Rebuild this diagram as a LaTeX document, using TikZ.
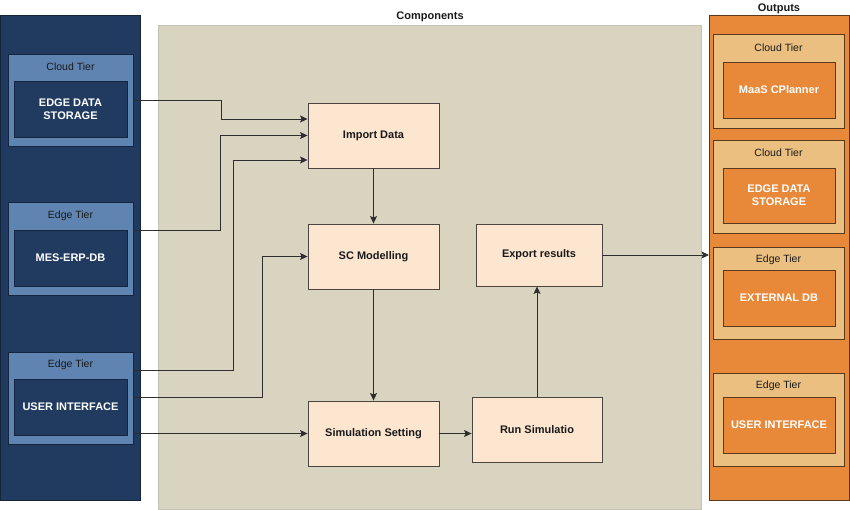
\documentclass[tikz,border=0pt]{standalone}
\usepackage{fontspec}
\setmainfont{Liberation Sans}
\usetikzlibrary{arrows.meta,calc}
\definecolor{navy}{HTML}{213B60}
\definecolor{navyd}{HTML}{14263E}
\definecolor{steel}{HTML}{5F84B1}
\definecolor{beige}{HTML}{D8D4C0}
\definecolor{beiged}{HTML}{C4C2B8}
\definecolor{peach}{HTML}{FDE6D0}
\definecolor{boxd}{HTML}{4A4540}
\definecolor{orng}{HTML}{E8893A}
\definecolor{orngd}{HTML}{5A3A1E}
\definecolor{tan}{HTML}{EABF80}
\definecolor{ink}{HTML}{1A1A1A}
\definecolor{wire}{HTML}{2E2E2E}
\tikzset{
  nw/.style={anchor=north west, inner sep=0pt, outer sep=0pt},
  lpanel/.style={nw, fill=navy, draw=navyd, line width=1pt},
  cpanel/.style={nw, fill=beige, draw=beiged, line width=1pt},
  opanel/.style={nw, fill=orng, draw=orngd, line width=1pt},
  ltier/.style={nw, fill=steel, draw=navyd, line width=0.8pt, minimum width=125pt},
  linner/.style={nw, fill=navy, draw=navyd, line width=0.8pt, minimum width=113pt, minimum height=56pt,
     text=white, font=\fontsize{11}{13}\selectfont\bfseries, align=center},
  otier/.style={nw, fill=tan, draw=orngd, line width=0.8pt, minimum width=131pt},
  oinner/.style={nw, fill=orng, draw=orngd, line width=0.8pt, minimum width=112pt, minimum height=56pt,
     text=white, font=\fontsize{11}{13}\selectfont\bfseries, align=center},
  tierlbl/.style={text=ink, font=\fontsize{10.5}{12}\selectfont, inner sep=0pt},
  ttl/.style={text=ink, font=\fontsize{11}{13}\selectfont\bfseries, inner sep=0pt},
  comp/.style={fill=peach, draw=boxd, line width=0.9pt, inner sep=0pt,
     text=ink, font=\fontsize{11}{13}\selectfont\bfseries, align=center},
  arr/.style={draw=wire, line width=0.9pt, -{Stealth[length=7.5pt,width=7pt,inset=1.5pt]}},
}
\begin{document}
\begin{tikzpicture}[x=1pt,y=-1pt]
\useasboundingbox (0,0) rectangle (850,510);
\fill[white] (0,0) rectangle (850,510);

% panels
\node[lpanel, minimum width=140pt, minimum height=484pt] (lp) at (0.5,16) {};
\node[cpanel, minimum width=543pt, minimum height=483pt] (cp) at (158,26) {};
\node[opanel, minimum width=140pt, minimum height=484pt] (op) at (709,16) {};
\node[ttl] (ctitle) at (430,17) {Components};
\node[ttl] (otitle) at (779,9) {Outputs};

% left tiers
\node[ltier, minimum height=92pt] (lc1) at (8,54) {};
\node[tierlbl] (lc1t) at (70.5,67) {Cloud Tier};
\node[linner] (lc1i) at (14,81) {EDGE DATA\\STORAGE};

\node[ltier, minimum height=93pt] (le2) at (8,202) {};
\node[tierlbl] (le2t) at (70.5,216) {Edge Tier};
\node[linner] (le2i) at (14,230) {MES-ERP-DB};

\node[ltier, minimum height=92pt] (le3) at (8,352) {};
\node[tierlbl] (le3t) at (70.5,365) {Edge Tier};
\node[linner] (le3i) at (14,379) {USER INTERFACE};

% output tiers
\node[otier, minimum height=94pt] (oc1) at (713,34) {};
\node[tierlbl] (oc1t) at (778.5,48) {Cloud Tier};
\node[oinner] (oc1i) at (723,62) {MaaS CPlanner};

\node[otier, minimum height=93pt] (oc2) at (713,140) {};
\node[tierlbl] (oc2t) at (778.5,153) {Cloud Tier};
\node[oinner, minimum height=55pt] (oc2i) at (723,168) {EDGE DATA\\STORAGE};

\node[otier, minimum height=92pt] (oe3) at (713,247) {};
\node[tierlbl] (oe3t) at (778.5,260) {Edge Tier};
\node[oinner] (oe3i) at (723,270) {EXTERNAL DB};

\node[otier, minimum height=93pt] (oe4) at (713,373) {};
\node[tierlbl] (oe4t) at (778.5,386) {Edge Tier};
\node[oinner] (oe4i) at (723,397) {USER INTERFACE};

% components
\node[comp, minimum width=131pt, minimum height=65pt] (imp) at (373.5,135.5) {Import Data};
\node[comp, minimum width=131pt, minimum height=65pt] (scm) at (373.5,256.5) {SC Modelling};
\node[comp, minimum width=126pt, minimum height=62pt] (exp) at (539,255) {Export results};
\node[comp, minimum width=131pt, minimum height=65pt] (sim) at (373.5,433.5) {Simulation Setting};
\node[comp, minimum width=130pt, minimum height=65pt] (run) at (537,429.5) {Run Simulatio};

% connectors
\draw[arr] (lc1.east) -- (221,100) |- ([yshift=16.5pt]imp.west);
\draw[arr] ([yshift=-28pt]le2.north east) -- (220,230) |- (imp.west);
\draw[arr] ([yshift=-18pt]le3.north east) -- (233,370) |- ([yshift=-24.5pt]imp.west);
\draw[arr] ([yshift=-45pt]le3.north east) -- (262,397) |- (scm.west);
\draw[arr] (le3.east |- sim.west) -- (sim.west);
\draw[arr] (imp.south) -- (scm.north);
\draw[arr] (scm.south) -- (sim.north);
\draw[arr] (sim.east) -- (run.west |- sim.east);
\draw[arr] (run.north) -- (run.north |- exp.south);
\draw[arr] (exp.east) -- (exp.east -| op.west);
\end{tikzpicture}
\end{document}
